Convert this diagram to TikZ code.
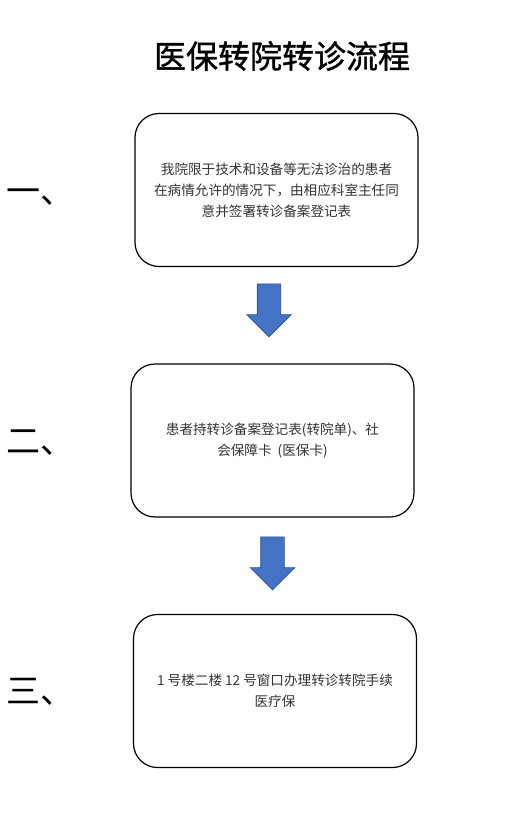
\documentclass[tikz,border=0pt]{standalone}
\usepackage{fontspec}
\newfontfamily\cjk{Noto Sans CJK SC}
\newfontfamily\cjktitle[FakeBold=1.2]{Noto Sans CJK SC}
\usetikzlibrary{shapes.arrows}
\definecolor{txtgray}{HTML}{333333}
\definecolor{arrfill}{HTML}{4472C4}
\definecolor{arrline}{HTML}{2F528F}
\tikzset{
  stepbox/.style={draw=black, line width=1.2pt, rounded corners=24pt,
    minimum width=283pt, minimum height=153pt, inner sep=0pt,
    font=\cjk\fontsize{13.6}{21}\selectfont, text=txtgray, align=center},
  blockarrow/.style={single arrow, fill=arrfill, draw=arrline, line width=0.6pt,
    minimum height=53pt, minimum width=44pt, single arrow head extend=10.5pt,
    inner xsep=0pt, inner ysep=11.5pt, text height=0pt, text depth=0pt, rotate=-90},
  numlabel/.style={font=\cjk\fontsize{34}{34}\selectfont, text=black, inner sep=0pt, anchor=base west},
  titletext/.style={font=\cjktitle\fontsize{32}{32}\selectfont, text=black, inner sep=0pt}
}
\begin{document}
\begin{tikzpicture}[x=1pt, y=-1pt]
\useasboundingbox (0,0) rectangle (526,836);
\node[titletext] (title) at (282,56) {医保转院转诊流程};
\node[stepbox] (b1) at (276.5,190) {我院限于技术和设备等无法诊治的患者\\在病情允许的情况下，由相应科室主任同\\意并签署转诊备案登记表};
\node[stepbox] (b2) at (272.5,440.5) {患者持转诊备案登记表(转院单)、社\\会保障卡\ \ (医保卡)};
\node[stepbox] (b3) at (275,691) {1 号楼二楼 12 号窗口办理转诊转院手续\\医疗保};
\node[blockarrow] (a1) at (269,304.5) {};
\node[blockarrow] (a2) at (272.5,557.5) {};
\node[numlabel] (n1) at (6,203) {一、};
\node[numlabel] (n2) at (6,453) {二、};
\node[numlabel] (n3) at (6,703) {三、};
\end{tikzpicture}
\end{document}
